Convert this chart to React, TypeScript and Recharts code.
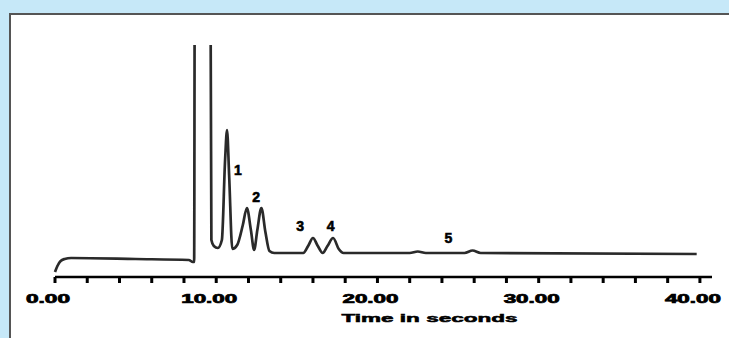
import React from 'react';
import { LineChart, Line, XAxis, YAxis, ReferenceDot } from 'recharts';

// Retention time (s) and detector signal (arbitrary units above baseline axis)
const times = [
  0, 0.15, 0.35, 0.6, 1.0, 5.0, 8.3, 8.55, 8.63, 8.68, 9.62, 9.7, 9.85, 10.1, 10.35,
  10.55, 10.67, 10.8, 11.0, 11.3, 11.65, 11.9, 12.15, 12.35, 12.55, 12.8, 13.05, 13.3,
  13.6, 15.4, 15.7, 16.0, 16.3, 16.6, 16.9, 17.25, 17.6, 17.9, 22.0, 22.5, 23.0, 25.4,
  25.9, 26.4, 39.8,
];
const signal = [
  5, 11, 16, 18, 19, 18, 17, 15, 15, 400, 400, 37, 31, 29, 37,
  117, 147, 102, 28, 32, 52, 69, 47, 27, 47, 69, 45, 26,
  24, 24, 31, 39, 31, 24, 31, 39, 28, 24, 24, 25.5, 24, 24,
  26.5, 24, 23,
];

const peakNames = ['1', '2', '3', '4', '5'];
const peakLabelTimes = [11.35, 12.47, 15.2, 17.1, 24.4];
const peakLabelSignal = [107, 80, 51, 51, 39];

const xTicks = [0, 2, 4, 6, 8, 10, 12, 14, 16, 18, 20, 22, 24, 26, 28, 30, 32, 34, 36, 38, 40];
const xLabels = ['0.00', '10.00', '20.00', '30.00', '40.00'];

const data = times.map((t, i) => ({ t, s: signal[i] }));

const FONT = '"Liberation Sans", Arial, sans-serif';

const TickLabel = (props: any) => {
  const { x, y, payload } = props;
  const v = payload.value;
  if (v % 10 !== 0) return null;
  const txt = xLabels[v / 10];
  const len = txt.length === 4 ? 44 : 56;
  return (
    <text
      x={x - 7}
      y={y + 18}
      textAnchor="middle"
      fontFamily={FONT}
      fontWeight={900}
      fontSize={12}
      fill="#000"
      stroke="#000"
      strokeWidth={0.7}
      textLength={len}
      lengthAdjust="spacingAndGlyphs"
    >
      {txt}
    </text>
  );
};

const AxisTitle = (props: any) => {
  const vb = props.viewBox || {};
  const cx = vb.x + vb.width * 0.57;
  return (
    <text
      x={cx}
      y={vb.y + 45}
      textAnchor="middle"
      fontFamily={FONT}
      fontWeight={900}
      fontSize={11}
      fill="#000"
      stroke="#000"
      strokeWidth={0.5}
      textLength={176}
      lengthAdjust="spacingAndGlyphs"
    >
      Time in seconds
    </text>
  );
};

export default function App() {
  return (
    <div
      style={{
        position: 'absolute',
        left: 0,
        top: 0,
        width: 729,
        height: 338,
        background: '#c6e8f8',
        overflow: 'hidden',
      }}
    >
      <div
        style={{
          position: 'absolute',
          left: 9,
          top: 13,
          width: 729,
          height: 338,
          background: '#fff',
          borderLeft: '2px solid #555',
          borderTop: '2px solid #555',
        }}
      />
      <div style={{ position: 'absolute', left: 0, top: 0 }}>
        <LineChart width={729} height={338} data={data} margin={{ top: 45, right: 17, bottom: 0, left: 55 }}>
          <XAxis
            dataKey="t"
            type="number"
            domain={[0, 40.75]}
            ticks={xTicks}
            interval={0}
            axisLine={{ stroke: '#000', strokeWidth: 2.5 }}
            tickLine={{ stroke: '#000', strokeWidth: 3 }}
            tickSize={6}
            tick={<TickLabel />}
            label={<AxisTitle />}
            height={61}
          />
          <YAxis hide type="number" domain={[0, 232]} allowDataOverflow />
          <Line
            dataKey="s"
            type="monotone"
            stroke="#2a2a2a"
            strokeWidth={2.7}
            dot={false}
            isAnimationActive={false}
          />
          {peakNames.map((n, i) => (
            <ReferenceDot
              key={n}
              x={peakLabelTimes[i]}
              y={peakLabelSignal[i]}
              r={0}
              fill="none"
              stroke="none"
              ifOverflow="visible"
              label={{
                value: n,
                position: 'center',
                fontFamily: FONT,
                fontWeight: 900,
                fontSize: 14,
                fill: '#000',
                stroke: '#000',
                strokeWidth: 0.6,
              }}
            />
          ))}
        </LineChart>
      </div>
    </div>
  );
}
